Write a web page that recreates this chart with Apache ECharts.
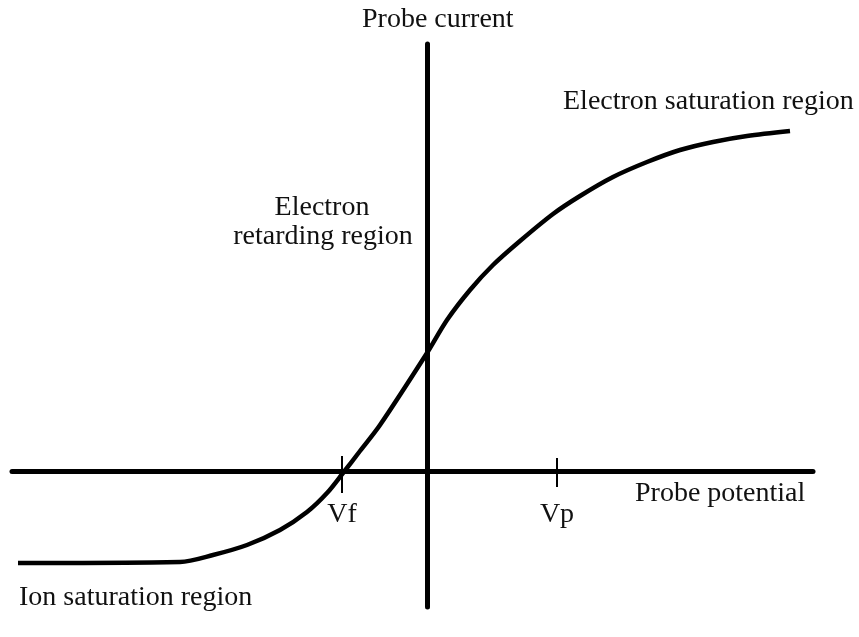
<!DOCTYPE html>
<html>
<head>
<meta charset="utf-8">
<script src="https://cdn.jsdelivr.net/npm/echarts@6/dist/echarts.min.js"></script>
<style>
  html, body { margin: 0; padding: 0; background: #fff; }
  #main { width: 859px; height: 637px; }
</style>
</head>
<body>
<div id="main"></div>
<script>
// probe potential / probe current, arbitrary units (axes cross at 0,0)
var potential = [-40.9, -24.7, -21.4, -18.0, -14.7, -12.0, -10.0, -8.4, -6.7, -4.7, 0.0, 2.0, 4.3, 6.6, 9.3, 12.6, 15.3, 18.6, 22.0, 25.3, 28.6, 32.0, 36.3];
var current   = [-9.2, -9.1, -8.4, -7.4, -5.9, -4.1, -2.2, -0.2, 2.0, 4.6, 11.8, 15.1, 18.1, 20.6, 23.0, 25.7, 27.5, 29.4, 30.9, 32.1, 32.9, 33.5, 34.0];

var tickValues = [-8.5, 13.0];
var tickLabels = ['Vf', 'Vp'];

var xRange = [-41.5, 38.6];
var yRange = [-13.6, 42.7];

var font = '"Liberation Serif", "Times New Roman", serif';
var fontSize = 28;
var txtFont = fontSize + 'px ' + font;

var curve = potential.map(function (v, i) { return [v, current[i]]; });

// short tick strokes crossing the potential axis, labelled below
var tickMarks = tickValues.map(function (v, i) {
    var up = i === 0 ? 1.5 : 1.3, down = i === 0 ? -2.2 : -1.6;
    return [
        { coord: [v, down], label: { formatter: tickLabels[i], distance: i === 0 ? 8 : 14 } },
        { coord: [v, up] }
    ];
});

var chart = echarts.init(document.getElementById('main'));
var option = {
    backgroundColor: '#fff',
    animation: false,
    grid: { left: 12, right: 46, top: 44, bottom: 30, containLabel: false, outerBoundsMode: 'none' },
    xAxis: {
        type: 'value',
        min: xRange[0],
        max: xRange[1],
        splitLine: { show: false },
        axisTick: { show: false },
        axisLabel: { show: false },
        axisLine: { show: true, onZero: true, lineStyle: { color: '#000', width: 5 } }
    },
    yAxis: {
        type: 'value',
        min: yRange[0],
        max: yRange[1],
        splitLine: { show: false },
        axisTick: { show: false },
        axisLabel: { show: false },
        axisLine: { show: true, onZero: true, lineStyle: { color: '#000', width: 5 } }
    },
    graphic: [
        { type: 'text', left: 362, top: 6, style: { text: 'Probe current', font: txtFont, fill: '#111' } },
        { type: 'text', left: 563, top: 88, style: { text: 'Electron saturation region', font: txtFont, fill: '#111' } },
        { type: 'text', x: 322, y: 194, style: { text: 'Electron', font: txtFont, fill: '#111', align: 'center' } },
        { type: 'text', x: 323, y: 223, style: { text: 'retarding region', font: txtFont, fill: '#111', align: 'center' } },
        { type: 'text', left: 635, top: 480, style: { text: 'Probe potential', font: txtFont, fill: '#111' } },
        { type: 'text', left: 19, top: 584, style: { text: 'Ion saturation region', font: txtFont, fill: '#111' } }
    ],
    series: [
        {
            type: 'line',
            data: curve,
            smooth: 0.3,
            showSymbol: false,
            symbol: 'none',
            lineStyle: { color: '#000', width: 4.5 },
            markLine: {
                silent: true,
                symbol: 'none',
                label: {
                    show: true,
                    position: 'start',
                    color: '#111',
                    fontFamily: font,
                    fontSize: fontSize
                },
                lineStyle: { color: '#000', width: 2, type: 'solid' },
                data: tickMarks
            }
        }
    ]
};
chart.setOption(option);
</script>
</body>
</html>
